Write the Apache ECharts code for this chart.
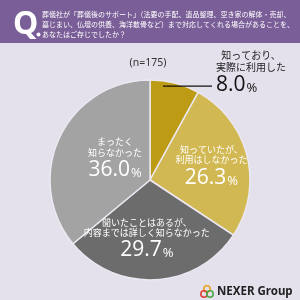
<!DOCTYPE html>
<html><head><meta charset="utf-8">
<script src="https://cdn.jsdelivr.net/npm/echarts@6/dist/echarts.min.js"></script>
<style>html,body{margin:0;padding:0;background:#e5e1ec}#c{width:300px;height:300px}</style>
</head><body><div id="c"></div>
<script>
const categories = ['知っており、\n実際に利用した', '知っていたが、\n利用はしなかった', '聞いたことはあるが、\n内容までは詳しく知らなかった', 'まったく\n知らなかった'];
const values = [8.0, 26.3, 29.7, 36.0];
const sampleLabel = '(n=175)';
const questionLines = ['葬儀社が「葬儀後のサポート」（法要の手配、遺品整理、空き家の解体・売却、', '墓じまい、仏壇の供養、海洋散骨など）まで対応してくれる場合があることを、', 'あなたはご存じでしたか？'];
const colors = ['#bd9b14', '#d2b852', '#6c6c6c', '#a3a3a3'];
const labelOffsets = [[0,0],[10,0],[-6,7],[13,2]];

const FONT = '"Noto Sans CJK JP", "Noto Sans", sans-serif';
const NUMFONT = '"Open Sans", "Noto Sans", sans-serif';
const chart = echarts.init(document.getElementById('c'));
const data = categories.map((n, i) => ({
  name: n, value: values[i],
  itemStyle: { color: colors[i] },
  label: i === 0 ? {
    position: 'outside',
    color: '#222',
    formatter: p => '{n|' + p.name + '}\n{v|' + p.value.toFixed(1) + '}{p|%}',
    rich: {
      n: { fontSize: 10, lineHeight: 12, color: '#222', align: 'center', fontFamily: FONT },
      v: { fontSize: 21, lineHeight: 24, color: '#111', fontFamily: NUMFONT },
      p: { fontSize: 13, lineHeight: 24, color: '#111', fontFamily: NUMFONT, verticalAlign: 'bottom', padding: [0,0,2,1] }
    }
  } : { position: 'inside', offset: labelOffsets[i] },
  labelLine: { show: false }
}));

chart.setOption({
  backgroundColor: '#e5e1ec',
  animation: false,
  graphic: [
    { type: 'rect', shape: { x: 0, y: 0, width: 300, height: 43 }, style: { fill: '#7a5e98' } },
    { type: 'text', x: 13, y: 9, style: { text: 'Q', fontSize: 32, fontWeight: 'bold', fill: '#fff', fontFamily: '"Noto Sans", sans-serif' } },
    { type: 'circle', shape: { cx: 38.5, cy: 34.5, r: 2 }, style: { fill: '#fff' } },
    { type: 'text', x: 42, y: 9, style: { text: questionLines.join('\n'), fontSize: 7, lineHeight: 10, fill: '#fff', fontFamily: FONT } },
    { type: 'text', x: 148, y: 63, style: { text: sampleLabel, fontSize: 10.5, fill: '#333', align: 'center', verticalAlign: 'middle', fontFamily: '"Noto Sans", sans-serif' } },
    { type: 'rect', shape: { x: 163, y: 85.5, width: 49, height: 1.2 }, style: { fill: '#111' }, z: 100 },
    { type: 'circle', shape: { cx: 207, cy: 289, r: 3.2 }, style: { fill: 'none', stroke: '#e8a31e', lineWidth: 1.6 } },
    { type: 'circle', shape: { cx: 204, cy: 294, r: 3.2 }, style: { fill: 'none', stroke: '#e0413a', lineWidth: 1.6 } },
    { type: 'circle', shape: { cx: 210, cy: 294, r: 3.2 }, style: { fill: 'none', stroke: '#4aa84b', lineWidth: 1.6 } },
    { type: 'text', x: 217, y: 292, style: { text: 'NEXER Group', fontSize: 11.5, fontWeight: 'bold', fill: '#222', verticalAlign: 'middle', fontFamily: '"Noto Sans", sans-serif' } }
  ],
  series: [{
    type: 'pie',
    z: 1,
    center: [150, 180],
    radius: [0, 100],
    startAngle: 90,
    clockwise: true,
    data: data,
    itemStyle: { borderColor: '#ece8f2', borderWidth: 1.5 },
    label: {
      color: '#fff',
      formatter: p => '{n|' + p.name + '}\n{v|' + p.value.toFixed(1) + '}{p|%}',
      rich: {
        n: { fontSize: 9, lineHeight: 10.5, color: '#fff', align: 'center', fontFamily: FONT },
        v: { fontSize: 21, lineHeight: 25, color: '#fff', fontFamily: NUMFONT },
        p: { fontSize: 13, lineHeight: 25, color: '#fff', fontFamily: NUMFONT, verticalAlign: 'bottom', padding: [0,0,3,1] }
      }
    },
    labelLayout: function (p) {
      if (p.dataIndex !== 0) return {};
      return { x: 216, y: 73, align: 'left', verticalAlign: 'middle' };
    }
  }]
});
</script></body></html>
